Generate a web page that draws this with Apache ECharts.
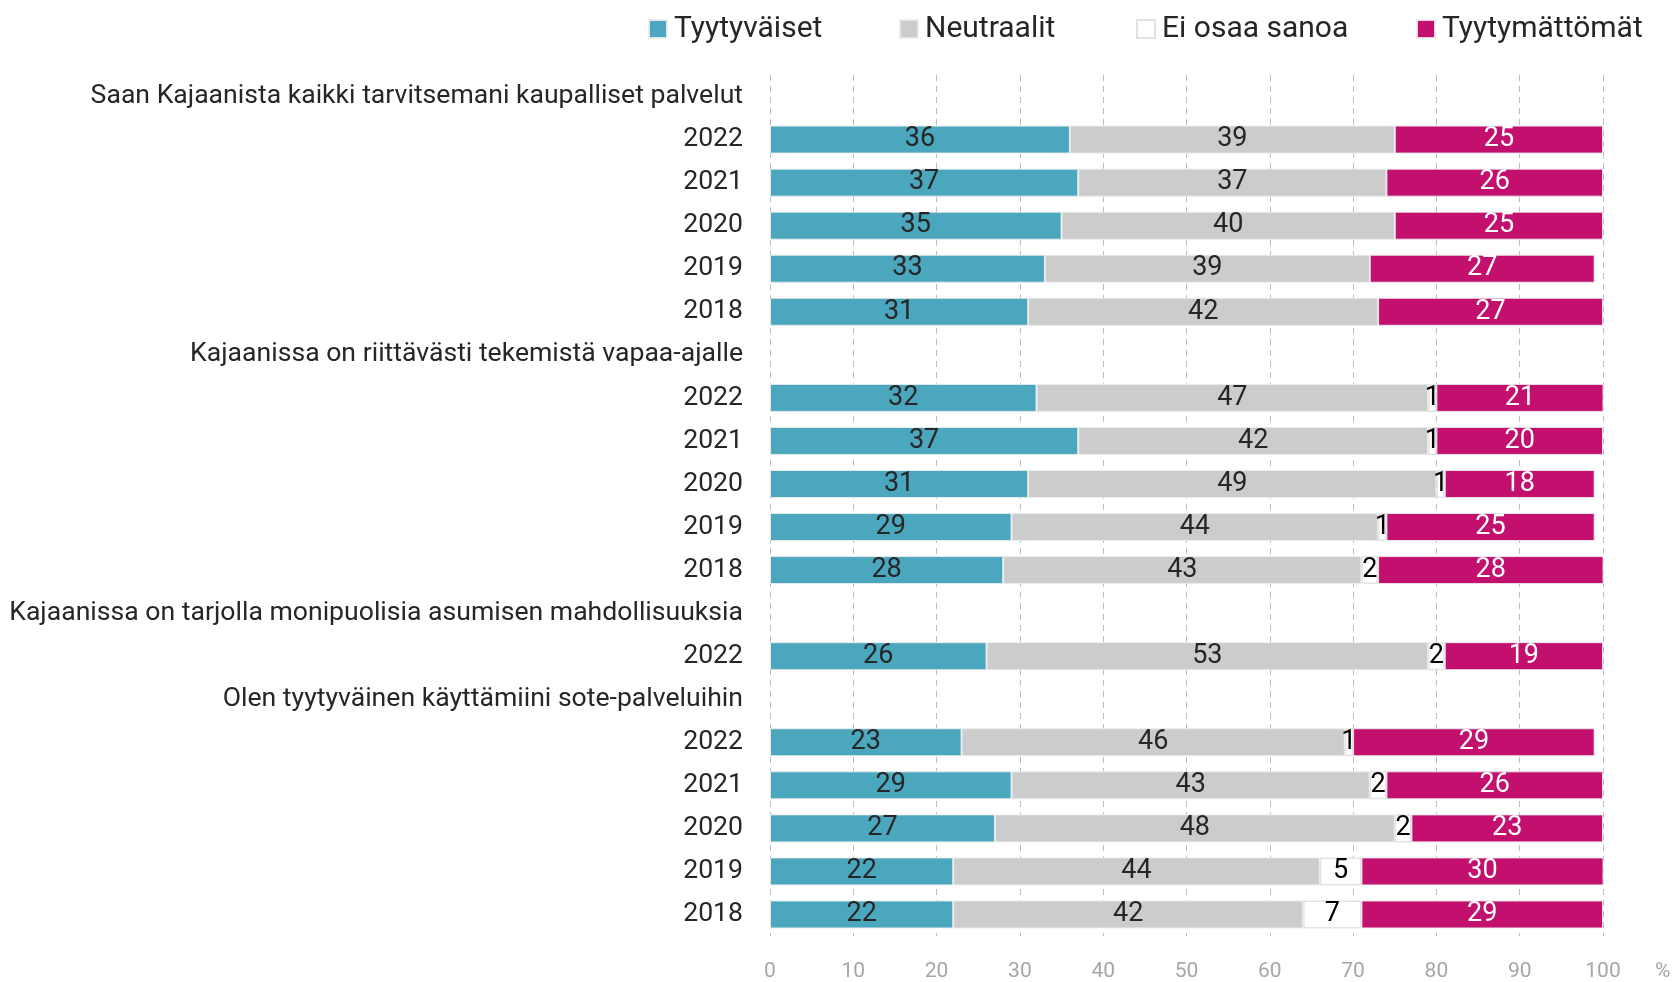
<!DOCTYPE html>
<html>
<head>
<meta charset="utf-8">
<title>Tyytyväisyys Kajaanin palveluihin</title>
<script src="https://cdn.jsdelivr.net/npm/echarts@6/dist/echarts.min.js"></script>
<style>
  html, body { margin: 0; padding: 0; background: #ffffff; }
  #chart { width: 1676px; height: 982px; }
</style>
</head>
<body>
<div id="chart"></div>
<script>
// Survey statements and the years asked for each
const questions = [
  'Saan Kajaanista kaikki tarvitsemani kaupalliset palvelut',
  'Kajaanissa on riittävästi tekemistä vapaa-ajalle',
  'Kajaanissa on tarjolla monipuolisia asumisen mahdollisuuksia',
  'Olen tyytyväinen käyttämiini sote-palveluihin'
];
const years = [
  ['2022', '2021', '2020', '2019', '2018'],
  ['2022', '2021', '2020', '2019', '2018'],
  ['2022'],
  ['2022', '2021', '2020', '2019', '2018']
];

// Shares of respondents (%) per statement and year
const satisfied    = [[36, 37, 35, 33, 31], [32, 37, 31, 29, 28], [26], [23, 29, 27, 22, 22]];
const neutral      = [[39, 37, 40, 39, 42], [47, 42, 49, 44, 43], [53], [46, 43, 48, 44, 42]];
const cannotSay    = [[0, 0, 0, 0, 0],      [1, 1, 1, 1, 2],      [2],  [1, 2, 2, 5, 7]];
const dissatisfied = [[25, 26, 25, 27, 27], [21, 20, 18, 25, 28], [19], [29, 26, 23, 30, 29]];

const seriesNames = ['Tyytyväiset', 'Neutraalit', 'Ei osaa sanoa', 'Tyytymättömät'];
const xTicks = [0, 10, 20, 30, 40, 50, 60, 70, 80, 90, 100];

// Flatten into rows: a heading row for each statement followed by its years
const sources = [satisfied, neutral, cannotSay, dissatisfied];
const rowLabels = [];
const rowData = sources.map(() => []);
questions.forEach((q, qi) => {
  rowLabels.push(q);
  sources.forEach((s, si) => rowData[si].push(null));
  years[qi].forEach((y, yi) => {
    rowLabels.push(y);
    sources.forEach((s, si) => rowData[si].push(s[qi][yi] > 0 ? s[qi][yi] : null));
  });
});
const rowKeys = rowLabels.map((l, i) => 'r' + i);

const FONT = "Roboto, 'Noto Sans', sans-serif";
const colors = ['#4ba7be', '#cccccc', '#ffffff', '#c3106e'];
const labelColors = ['#262626', '#262626', '#000000', '#ffffff'];
const legendLeft = [648, 899, 1136, 1416];

const chart = echarts.init(document.getElementById('chart'), null, { renderer: 'canvas' });

chart.setOption({
  backgroundColor: '#ffffff',
  animation: false,
  textStyle: { fontFamily: FONT },
  // one legend block per series so each entry sits at its own place
  legend: seriesNames.map((name, i) => ({
    left: legendLeft[i],
    top: 14,
    itemWidth: 18,
    itemHeight: 18,
    icon: 'rect',
    padding: 0,
    textStyle: { fontFamily: FONT, fontSize: 30, color: '#262626', padding: [4, 0, 0, 2] },
    data: [name]
  })),
  grid: { left: 770, right: 73, top: 75, bottom: 46, containLabel: false },
  xAxis: {
    type: 'value',
    min: 0,
    max: 100,
    interval: 10,
    name: '%',
    nameLocation: 'end',
    nameGap: 52,
    nameTextStyle: { fontFamily: FONT, fontSize: 21, color: '#a6a6a6', verticalAlign: 'top', padding: [25, 0, 0, 0] },
    axisLine: { show: false },
    axisTick: { show: false },
    axisLabel: {
      margin: 25,
      fontFamily: FONT,
      fontSize: 21,
      color: '#a6a6a6',
      formatter: v => xTicks.includes(v) ? String(v) : ''
    },
    splitLine: { show: true, lineStyle: { color: '#bfbfbf', width: 1, type: [6, 5] } }
  },
  yAxis: {
    type: 'category',
    inverse: true,
    data: rowKeys,
    axisLine: { show: false },
    axisTick: { show: false },
    splitLine: { show: false },
    axisLabel: {
      margin: 27,
      fontFamily: FONT,
      fontSize: 26.6,
      color: '#262626',
      interval: 0,
      padding: [8, 0, 0, 0],
      formatter: (v, i) => rowLabels[i]
    }
  },
  series: seriesNames.map((name, si) => ({
    name,
    type: 'bar',
    stack: 'total',
    barWidth: 28,
    data: rowData[si],
    itemStyle: {
      color: colors[si],
      borderColor: si === 2 ? '#e3e3e3' : 'rgba(236,236,236,0.9)',
      borderWidth: si === 2 ? 1.5 : 1
    },
    label: {
      show: true,
      position: 'inside',
      fontFamily: FONT,
      fontSize: 27,
      color: labelColors[si],
      padding: [8, 0, 0, 0],
      formatter: p => (p.value == null ? '' : String(p.value))
    }
  }))
});
</script>
</body>
</html>
